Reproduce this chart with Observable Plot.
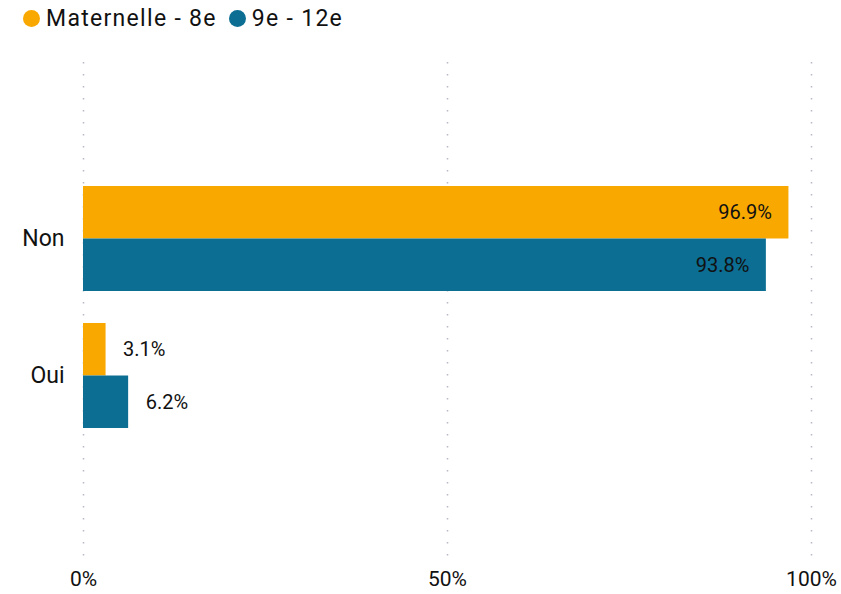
<!DOCTYPE html>
<html><head><meta charset="utf-8">
<script src="https://cdn.jsdelivr.net/npm/d3@7"></script>
<script src="https://cdn.jsdelivr.net/npm/@observablehq/plot@0.6"></script>
<style>
body{margin:0;background:#fff;font-family:Roboto, sans-serif;}
#legend{height:36px;display:flex;align-items:center;padding-left:23px;font-size:23px;font-weight:400;letter-spacing:1.3px;color:#111;}
.item{display:flex;align-items:center;margin-right:12px}
.sw{width:17px;height:17px;border-radius:50%;margin-right:6px}
</style></head><body>
<div id="legend"></div><div id="chart"></div>
<script>
const answers = ["Non", "Oui"];
const series = ["Maternelle - 8e", "9e - 12e"];
const maternelle = [96.9, 3.1];
const secondaire = [93.8, 6.2];
const colors = ["#F9A800", "#0B6E92"];
const xTicks = [0, 50, 100];

const data = [];
answers.forEach((a, i) => {
  data.push({answer: a, series: series[0], value: maternelle[i]});
  data.push({answer: a, series: series[1], value: secondaire[i]});
});

// legend
const legend = document.getElementById("legend");
series.forEach((s, i) => {
  const it = document.createElement("div"); it.className = "item";
  const sw = document.createElement("span"); sw.className = "sw"; sw.style.background = colors[i];
  const tx = document.createElement("span"); tx.textContent = s;
  it.append(sw, tx); legend.append(it);
});

const W = 841, H = 558, mt = 26, mb = 34, ml = 83, mr = 30;
const yOpts = {paddingInner: 0.2336, paddingOuter: 0.934, align: 0.484};
const band = d3.scaleBand(answers, [mt, H - mb]).paddingInner(yOpts.paddingInner).paddingOuter(yOpts.paddingOuter).align(yOpts.align);
const half = band.bandwidth() / 2;
const q = half / 2;

const isTop = d => d.series === series[0];
const fmt = d => d.value.toFixed(1) + "%";
const lab = {x: "value", y: "answer", text: fmt, fill: "#111", fontSize: 20};

const chart = Plot.plot({
  width: W, height: H,
  marginTop: mt, marginBottom: mb, marginLeft: ml, marginRight: mr,
  style: {fontFamily: "Roboto, sans-serif", fontSize: "21px", color: "#111", background: "#fff"},
  x: {domain: [0, 100], ticks: xTicks, tickFormat: d => d + "%", tickSize: 0, tickPadding: 11, label: null},
  y: {type: "band", domain: answers, ...yOpts, tickSize: 0, tickPadding: 19, label: null},
  color: {domain: series, range: colors},
  marks: [
    Plot.gridX(xTicks, {stroke: "#b8b8c6", strokeOpacity: 1, strokeWidth: 1.5, strokeDasharray: "1.5,10.5"}),
    Plot.barX(data.filter(isTop), {x: "value", y: "answer", fill: "series", insetBottom: half}),
    Plot.barX(data.filter(d => !isTop(d)), {x: "value", y: "answer", fill: "series", insetTop: half}),
    Plot.text(data.filter(d => d.value > 50 && isTop(d)), {...lab, textAnchor: "end", dx: -17, dy: -q}),
    Plot.text(data.filter(d => d.value > 50 && !isTop(d)), {...lab, textAnchor: "end", dx: -17, dy: q}),
    Plot.text(data.filter(d => d.value <= 50 && isTop(d)), {...lab, textAnchor: "start", dx: 17, dy: -q}),
    Plot.text(data.filter(d => d.value <= 50 && !isTop(d)), {...lab, textAnchor: "start", dx: 17, dy: q})
  ]
});
chart.querySelectorAll('[aria-label="y-axis tick label"] text').forEach(t => t.style.fontSize = "23px");
document.getElementById("chart").append(chart);
</script>
</body></html>
